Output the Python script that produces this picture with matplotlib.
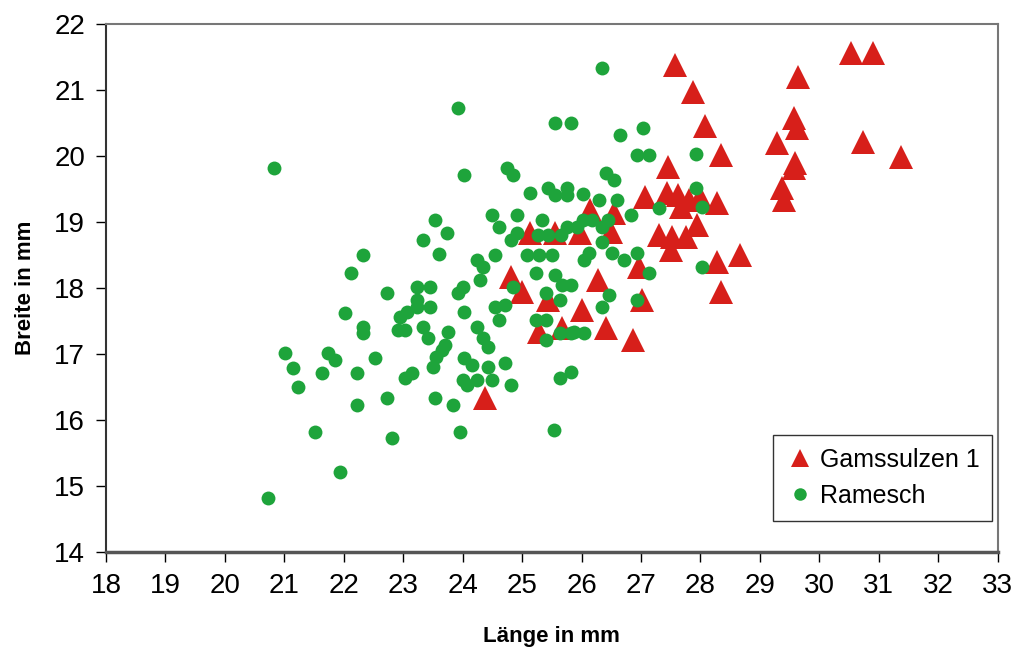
import numpy as np
import matplotlib
matplotlib.use("Agg")
import matplotlib.pyplot as plt

# Gamssulzen 1 (red triangles)
gams_x = [27.58, 27.88, 28.07, 28.35, 27.45, 30.54, 30.91, 29.65, 29.58, 29.63,
          29.29, 29.60, 29.58, 29.38, 29.41, 30.74, 31.38, 27.06, 27.43, 27.63,
          27.80, 28.00, 28.28, 27.68, 27.95, 27.31, 27.53, 27.76, 27.51, 26.15,
          26.55, 25.13, 25.55, 25.97, 26.50, 26.97, 28.28, 28.67, 24.82, 28.35,
          26.27, 25.00, 25.43, 26.00, 25.68, 25.29, 26.42, 27.01, 26.86, 24.37]
gams_y = [21.38, 20.97, 20.45, 20.01, 19.83, 21.56, 21.56, 21.20, 20.58, 20.42,
          20.20, 19.90, 19.82, 19.52, 19.33, 20.21, 19.99, 19.38, 19.44, 19.41,
          19.33, 19.38, 19.29, 19.23, 18.95, 18.80, 18.77, 18.77, 18.58, 19.18,
          19.14, 18.83, 18.83, 18.83, 18.85, 18.32, 18.39, 18.50, 18.17, 17.94,
          18.12, 17.94, 17.82, 17.67, 17.40, 17.33, 17.39, 17.82, 17.21, 16.33]

# Ramesch (green dots)
ram_x = [26.35, 23.92, 25.55, 25.83, 20.82, 24.03, 24.74, 24.84, 26.64, 27.03,
         26.94, 27.14, 27.93, 26.42, 26.55, 25.13, 25.43, 25.55, 25.75, 25.75,
         26.02, 26.30, 26.59, 27.93, 28.02, 27.31, 26.84, 23.53, 23.73, 23.33,
         24.50, 24.62, 24.92, 24.82, 24.92, 25.33, 25.26, 25.43, 25.66, 25.76,
         26.02, 26.17, 25.92, 26.44, 26.34, 26.34, 26.13, 26.05, 26.52, 26.72,
         26.94, 27.14, 28.03, 22.32, 23.61, 24.54, 22.13, 24.24, 24.34, 24.29,
         24.00, 23.92, 22.72, 23.24, 23.45, 25.24, 24.84, 25.09, 25.29, 25.51,
         25.55, 22.02, 22.32, 22.32, 22.94, 23.06, 22.91, 23.03, 23.23, 23.24,
         23.45, 23.33, 23.41, 23.75, 24.03, 24.24, 24.34, 24.42, 24.54, 24.71,
         24.62, 25.24, 25.41, 25.41, 25.41, 25.63, 25.68, 25.83, 25.63, 25.83,
         26.47, 26.34, 26.94, 21.01, 21.14, 21.23, 21.73, 21.85, 21.63, 22.22,
         22.52, 22.22, 22.72, 23.03, 23.14, 23.50, 23.56, 23.66, 23.70, 23.53,
         23.83, 24.03, 24.15, 24.00, 24.07, 24.24, 24.42, 24.50, 24.71, 24.82,
         25.63, 25.83, 23.95, 21.51, 22.82, 21.93, 20.72, 25.53, 25.88, 26.05]
ram_y = [21.33, 20.73, 20.50, 20.50, 19.82, 19.71, 19.82, 19.71, 20.32, 20.42,
         20.02, 20.02, 20.03, 19.74, 19.64, 19.44, 19.52, 19.41, 19.52, 19.41,
         19.42, 19.33, 19.33, 19.52, 19.23, 19.21, 19.11, 19.03, 18.83, 18.73,
         19.11, 18.92, 19.11, 18.73, 18.83, 19.03, 18.80, 18.80, 18.80, 18.92,
         19.03, 19.03, 18.92, 19.03, 18.92, 18.70, 18.53, 18.42, 18.53, 18.42,
         18.53, 18.23, 18.32, 18.50, 18.52, 18.50, 18.23, 18.42, 18.32, 18.12,
         18.02, 17.92, 17.92, 18.02, 18.02, 18.23, 18.02, 18.50, 18.50, 18.50,
         18.20, 17.62, 17.41, 17.32, 17.56, 17.64, 17.36, 17.36, 17.82, 17.71,
         17.71, 17.41, 17.24, 17.33, 17.64, 17.41, 17.24, 17.11, 17.71, 17.74,
         17.52, 17.52, 17.52, 17.92, 17.21, 17.82, 18.05, 18.05, 17.32, 17.32,
         17.89, 17.71, 17.82, 17.02, 16.79, 16.50, 17.02, 16.91, 16.71, 16.71,
         16.94, 16.23, 16.33, 16.64, 16.71, 16.80, 16.95, 17.06, 17.14, 16.33,
         16.23, 16.94, 16.83, 16.61, 16.53, 16.61, 16.80, 16.61, 16.86, 16.53,
         16.64, 16.73, 15.82, 15.82, 15.73, 15.21, 14.82, 15.85, 17.33, 17.32]

RED = "#d71f1a"
GREEN = "#1ea43b"

plt.rcParams["font.family"] = ["Liberation Sans", "DejaVu Sans"]

fig = plt.figure(figsize=(10.19, 6.56), dpi=100)
ax = fig.add_axes([0.104, 0.159, 0.875, 0.804])

ax.plot(gams_x, gams_y, linestyle="none", marker="^", markersize=17,
        color=RED, markeredgewidth=0, label="Gamssulzen 1")
ax.plot(ram_x, ram_y, linestyle="none", marker="o", markersize=10,
        color=GREEN, markeredgewidth=0, label="Ramesch")

ax.set_xlim(18, 33)
ax.set_ylim(14, 22)
ax.set_xticks(np.arange(18, 34, 1))
ax.set_yticks(np.arange(14, 23, 1))
ax.tick_params(axis="both", direction="out", length=7, width=1, labelsize=20, pad=8)

for side in ["top", "right"]:
    ax.spines[side].set_color("#777777")
    ax.spines[side].set_linewidth(1.5)
ax.spines["bottom"].set_color("#555555")
ax.spines["bottom"].set_linewidth(2.5)
ax.spines["left"].set_color("#333333")
ax.spines["left"].set_linewidth(1.5)

ax.set_xlabel("Länge in mm", fontsize=16, fontweight="bold", labelpad=20)
ax.set_ylabel("Breite in mm", fontsize=16, fontweight="bold", labelpad=13)

leg = ax.legend(loc="lower right", bbox_to_anchor=(0.994, 0.059),
                borderaxespad=0, frameon=True, fancybox=False,
                handletextpad=0.2, handlelength=1.2, borderpad=0.5,
                labelspacing=0.5, fontsize=18)
leg.get_frame().set_edgecolor("black")
leg.get_frame().set_linewidth(1)
for h in leg.legend_handles:
    h.set_markersize(13 if h.get_marker() == "^" else 9)

fig.savefig("out.png", dpi=100)
